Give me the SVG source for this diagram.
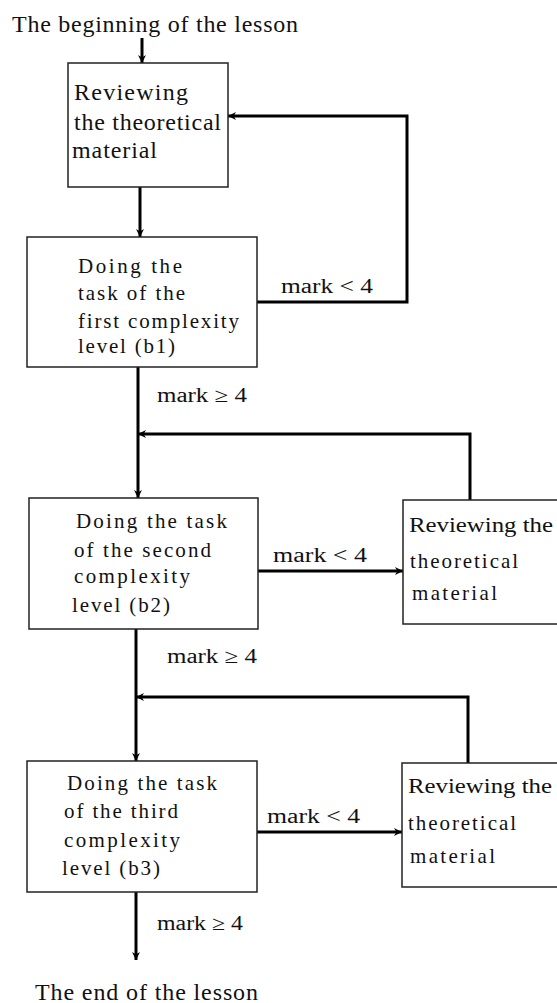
<svg xmlns="http://www.w3.org/2000/svg" width="557" height="1003" viewBox="0 0 557 1003">
<style>
.box{fill:#fff;stroke:#222;stroke-width:1.5}
.t{font-family:"Liberation Serif","Times New Roman",serif;fill:#111}
.big{font-size:24px}
.mid{font-size:21px}
.lbl{font-size:20px}
.ln{fill:none;stroke:#000;stroke-width:3}
</style>
<defs>
<marker id="ah" viewBox="0 0 10 10" refX="10" refY="5" markerWidth="9" markerHeight="8" markerUnits="userSpaceOnUse" orient="auto">
<path d="M0,0 L10,5 L0,10 L3,5 z" fill="#000"/>
</marker>
</defs>
<rect width="557" height="1003" fill="#fff"/>
<g id="connectors">
<path class="ln" d="M142,38 V63" marker-end="url(#ah)"/>
<path class="ln" d="M140,187 V237" marker-end="url(#ah)"/>
<path class="ln" d="M257,302 H407 V116 H228" marker-end="url(#ah)"/>
<path class="ln" d="M138,367 V498" marker-end="url(#ah)"/>
<path class="ln" d="M258,571 H403" marker-end="url(#ah)"/>
<path class="ln" d="M470,500 V434 H138" marker-end="url(#ah)"/>
<path class="ln" d="M136,629 V761" marker-end="url(#ah)"/>
<path class="ln" d="M257,832 H402" marker-end="url(#ah)"/>
<path class="ln" d="M468,763 V697 H136" marker-end="url(#ah)"/>
<path class="ln" d="M136,892 V960" marker-end="url(#ah)"/>
<text class="t lbl" x="281" y="293" textLength="92" lengthAdjust="spacingAndGlyphs">mark &lt; 4</text>
<text class="t lbl" x="157" y="402" textLength="90" lengthAdjust="spacingAndGlyphs">mark ≥ 4</text>
<text class="t lbl" x="273" y="562" textLength="94" lengthAdjust="spacingAndGlyphs">mark &lt; 4</text>
<text class="t lbl" x="167" y="663" textLength="90" lengthAdjust="spacingAndGlyphs">mark ≥ 4</text>
<text class="t lbl" x="267" y="823" textLength="93" lengthAdjust="spacingAndGlyphs">mark &lt; 4</text>
<text class="t lbl" x="157" y="930" textLength="86" lengthAdjust="spacingAndGlyphs">mark ≥ 4</text>
</g>
<g id="start">
<text class="t big" x="12" y="32" textLength="286" lengthAdjust="spacing">The beginning of the lesson</text>
</g>
<g id="review1">
<rect class="box" x="68" y="63" width="160" height="124"/>
<text class="t big" x="74" y="100" textLength="114" lengthAdjust="spacing">Reviewing</text>
<text class="t big" x="74" y="130" textLength="147" lengthAdjust="spacing">the theoretical</text>
<text class="t big" x="72" y="158" textLength="85" lengthAdjust="spacing">material</text>
</g>
<g id="task1">
<rect class="box" x="27" y="237" width="230" height="130"/>
<text class="t mid" x="78" y="273" textLength="104" lengthAdjust="spacing">Doing the</text>
<text class="t mid" x="78" y="300" textLength="107" lengthAdjust="spacing">task of the</text>
<text class="t mid" x="78" y="328" textLength="161" lengthAdjust="spacing">first complexity</text>
<text class="t mid" x="78" y="353" textLength="97" lengthAdjust="spacing">level (b1)</text>
</g>
<g id="task2">
<rect class="box" x="29" y="498" width="229" height="131"/>
<text class="t mid" x="76" y="528" textLength="151" lengthAdjust="spacing">Doing the task</text>
<text class="t mid" x="74" y="557" textLength="137" lengthAdjust="spacing">of the second</text>
<text class="t mid" x="74" y="583" textLength="116" lengthAdjust="spacing">complexity</text>
<text class="t mid" x="72" y="612" textLength="98" lengthAdjust="spacing">level (b2)</text>
</g>
<g id="review2">
<rect class="box" x="403" y="500" width="170" height="124"/>
<text class="t mid" x="409" y="532" textLength="144" lengthAdjust="spacingAndGlyphs">Reviewing the</text>
<text class="t mid" x="410" y="568" textLength="108" lengthAdjust="spacing">theoretical</text>
<text class="t mid" x="412" y="600" textLength="85" lengthAdjust="spacing">material</text>
</g>
<g id="task3">
<rect class="box" x="27" y="761" width="230" height="131"/>
<text class="t mid" x="67" y="790" textLength="150" lengthAdjust="spacing">Doing the task</text>
<text class="t mid" x="64" y="818" textLength="114" lengthAdjust="spacing">of the third</text>
<text class="t mid" x="64" y="847" textLength="116" lengthAdjust="spacing">complexity</text>
<text class="t mid" x="62" y="875" textLength="98" lengthAdjust="spacing">level (b3)</text>
</g>
<g id="review3">
<rect class="box" x="402" y="763" width="170" height="124"/>
<text class="t mid" x="408" y="793" textLength="144" lengthAdjust="spacingAndGlyphs">Reviewing the</text>
<text class="t mid" x="408" y="830" textLength="108" lengthAdjust="spacing">theoretical</text>
<text class="t mid" x="410" y="863" textLength="85" lengthAdjust="spacing">material</text>
</g>
<g id="end">
<text class="t big" x="35" y="1000" textLength="223" lengthAdjust="spacing">The end of the lesson</text>
</g>
</svg>
